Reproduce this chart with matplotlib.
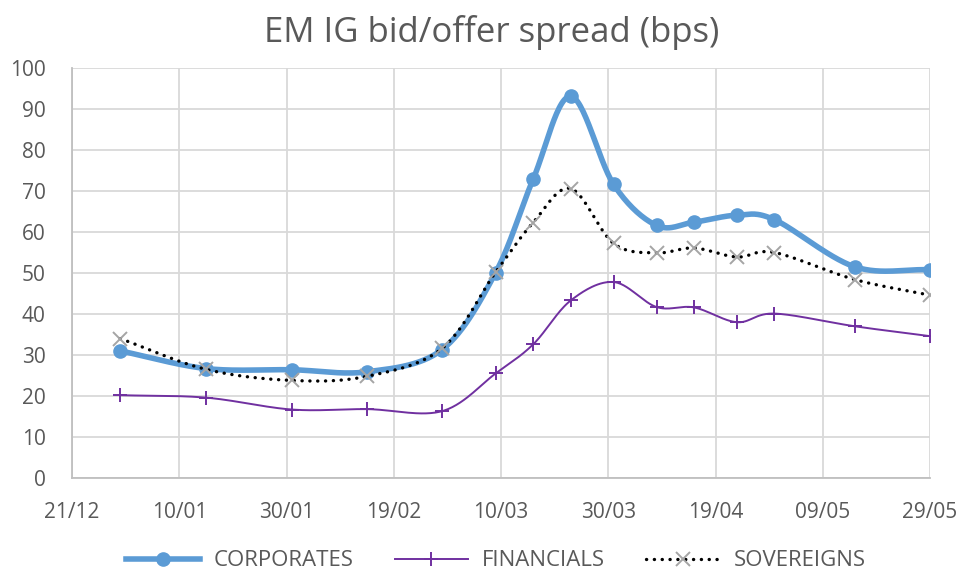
import numpy as np
import pandas as pd
import matplotlib
matplotlib.use("Agg")
import matplotlib.pyplot as plt
import matplotlib.dates as mdates

dates = ["2019-12-30", "2020-01-15", "2020-01-31", "2020-02-14", "2020-02-28",
         "2020-03-09", "2020-03-16", "2020-03-23", "2020-03-31", "2020-04-08",
         "2020-04-15", "2020-04-23", "2020-04-30", "2020-05-15", "2020-05-29"]
corporates = [31.0, 26.7, 26.4, 25.9, 31.3, 50.1, 72.9, 93.1, 71.6, 61.6, 62.4, 64.1, 63.0, 51.5, 50.8]
financials = [20.2, 19.6, 16.7, 16.8, 16.3, 25.5, 32.6, 43.3, 47.8, 41.7, 41.6, 38.0, 40.1, 37.0, 34.6]
sovereigns = [34.0, 26.5, 23.8, 24.8, 31.6, 50.2, 62.3, 70.6, 57.2, 54.9, 56.1, 53.9, 55.0, 48.4, 44.6]
series_names = ["CORPORATES", "FINANCIALS", "SOVEREIGNS"]
tick_dates = ["2019-12-21", "2020-01-10", "2020-01-30", "2020-02-19", "2020-03-10",
              "2020-03-30", "2020-04-19", "2020-05-09", "2020-05-29"]

x = mdates.date2num(pd.to_datetime(dates))
xt = mdates.date2num(pd.to_datetime(tick_dates))


def smooth(xs, ys, n=30):
    xs = np.asarray(xs, float)
    ys = np.asarray(ys, float)
    px = np.concatenate([[2 * xs[0] - xs[1]], xs, [2 * xs[-1] - xs[-2]]])
    py = np.concatenate([[2 * ys[0] - ys[1]], ys, [2 * ys[-1] - ys[-2]]])
    ox, oy = [], []
    t = np.linspace(0, 1, n, endpoint=False)
    for i in range(1, len(px) - 2):
        for P, out in ((px, ox), (py, oy)):
            p0, p1, p2, p3 = P[i - 1], P[i], P[i + 1], P[i + 2]
            v = 0.5 * ((2 * p1) + (-p0 + p2) * t + (2 * p0 - 5 * p1 + 4 * p2 - p3) * t ** 2
                       + (-p0 + 3 * p1 - 3 * p2 + p3) * t ** 3)
            out.extend(v)
    ox.append(xs[-1]); oy.append(ys[-1])
    return np.array(ox), np.array(oy)


font = "Open Sans"
txt = "#595959"
fig = plt.figure(figsize=(9.63, 5.71), dpi=100)
ax = fig.add_axes([72 / 963, 1 - 478 / 571, 858 / 963, 410 / 571])

c_col = "#5B9BD5"
f_col = "#7030A0"

sx, sy = smooth(x, corporates)
ax.plot(sx, sy, color=c_col, lw=4.0, solid_capstyle="round", zorder=3)
ax.plot(x, corporates, ls="none", marker="o", ms=9.5, color=c_col, zorder=4)

sx, sy = smooth(x, financials)
ax.plot(sx, sy, color=f_col, lw=1.4, zorder=3)
ax.plot(x, financials, ls="none", marker="+", ms=10, mew=1.4, color=f_col, zorder=4)

sx, sy = smooth(x, sovereigns)
ax.plot(sx, sy, color="black", lw=2.4, ls=(0, (0.05, 2.3)), dash_capstyle="round", zorder=5)
ax.plot(x, sovereigns, ls="none", marker="x", ms=10, mew=1.4, color="#A5A5A5", zorder=6)

ax.set_xlim(xt[0], xt[-1])
ax.set_ylim(0, 100)
ax.set_xticks(xt)
ax.set_xticklabels([pd.to_datetime(d).strftime("%d/%m") for d in tick_dates])
ax.set_yticks(np.arange(0, 101, 10))
ax.grid(True, color="#D9D9D9", lw=1.3)
ax.set_axisbelow(True)
for s in ["top", "right"]:
    ax.spines[s].set_visible(False)
for s in ["left", "bottom"]:
    ax.spines[s].set_color("#BFBFBF")
    ax.spines[s].set_linewidth(1.3)
ax.tick_params(length=0, labelsize=15, labelcolor=txt)
ax.tick_params(axis="y", pad=19)
ax.tick_params(axis="x", pad=17)
for lab in ax.get_xticklabels() + ax.get_yticklabels():
    lab.set_fontfamily(font)

fig.text(492 / 963, 1 - 42 / 571, "EM IG bid/offer spread (bps)", ha="center", va="baseline",
         fontsize=25, color=txt, family=font)

h1, = ax.plot([], [], color=c_col, lw=4.0, marker="o", ms=9.5)
h2, = ax.plot([], [], color=f_col, lw=1.4, marker="+", ms=10, mew=1.4)
h3, = ax.plot([], [], color="black", lw=2.4, ls=(0, (0.05, 2.3)), dash_capstyle="round",
              marker="x", ms=10, mew=1.4, mec="#A5A5A5")
fig.legend([h1, h2, h3], series_names, loc="center", bbox_to_anchor=(496 / 963, 1 - 561 / 571),
           ncol=3, frameon=False, handlelength=3.3, handletextpad=0.63, columnspacing=1.85,
           numpoints=1, prop={"family": font, "size": 16}, labelcolor=txt)

fig.savefig("out.png", dpi=100)
